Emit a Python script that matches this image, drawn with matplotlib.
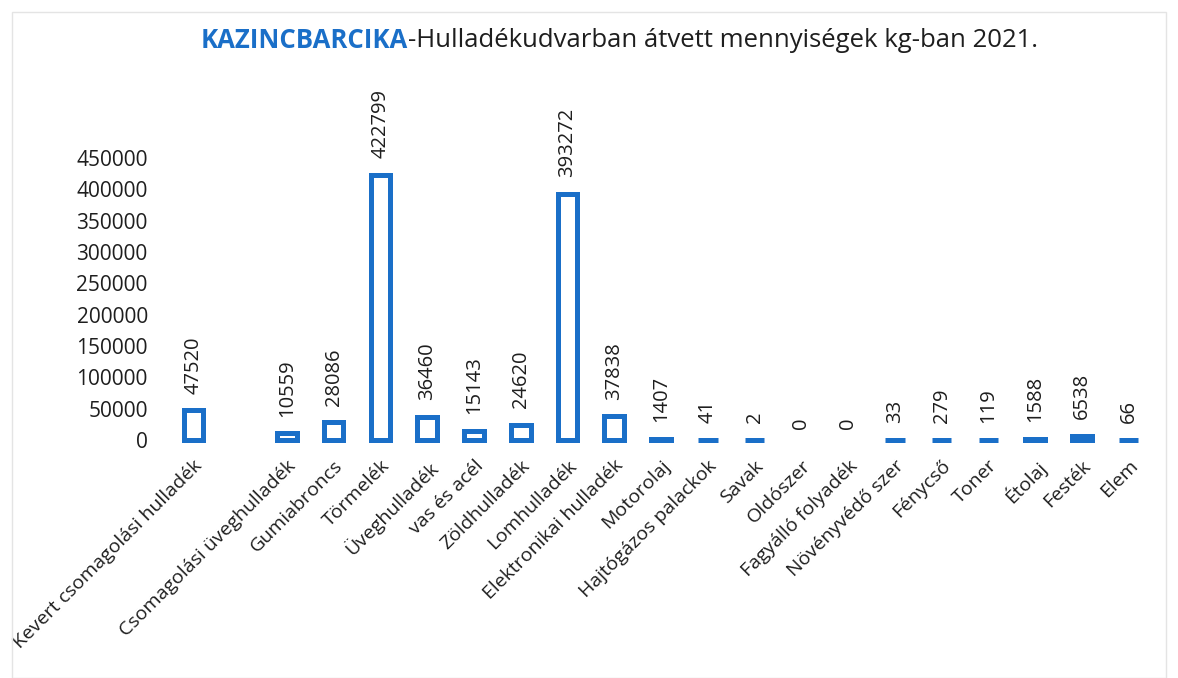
import numpy as np
import matplotlib
matplotlib.use("Agg")
import matplotlib.pyplot as plt
from matplotlib.patches import Rectangle

categories = ["Kevert csomagolási hulladék", "", "Csomagolási üveghulladék", "Gumiabroncs",
              "Törmelék", "Üveghulladék", "vas és acél", "Zöldhulladék", "Lomhulladék",
              "Elektronikai hulladék", "Motorolaj", "Hajtógázos palackok", "Savak",
              "Oldószer", "Fagyálló folyadék", "Növényvédő szer", "Fénycső", "Toner",
              "Étolaj", "Festék", "Elem"]
values = [47520, None, 10559, 28086, 422799, 36460, 15143, 24620, 393272, 37838,
          1407, 41, 2, 0, 0, 33, 279, 119, 1588, 6538, 66]
yticks = [0, 50000, 100000, 150000, 200000, 250000, 300000, 350000, 400000, 450000]

plt.rcParams['font.family'] = ['Open Sans', 'DejaVu Sans']
blue = '#1a6fc8'
txt = '#1e1e1e'

fig = plt.figure(figsize=(11.78, 6.78), dpi=100)
ax = fig.add_axes([170/1178, 1-440/678, (1152-170)/1178, (440-158)/678])

x = np.arange(len(categories))
idx = [i for i, v in enumerate(values) if v is not None]
hv = [values[i] for i in idx]
lws = [0 if v == 0 else 3.6 for v in hv]
bars = ax.bar(idx, hv, width=0.42, facecolor='white', edgecolor=blue,
              linewidth=lws, clip_on=False)
for b in bars:
    b.set_joinstyle('miter')

for i, v in zip(idx, hv):
    ax.annotate(str(v), (i, v), xytext=(0, 12 if v > 0 else 8), textcoords='offset points',
                rotation=90, ha='center', va='bottom', fontsize=14.5, color=txt,
                annotation_clip=False)

ax.set_xlim(-0.5, len(categories) - 0.5)
ax.set_ylim(0, 450000)
ax.set_yticks(yticks)
ax.set_yticklabels([str(t) for t in yticks], fontsize=15, color=txt)
ax.set_xticks(x)
ax.set_xticklabels(categories, rotation=45, ha='right', rotation_mode='anchor',
                   fontsize=14, color=txt)
ax.tick_params(axis='both', length=0)
ax.tick_params(axis='y', pad=16)
ax.tick_params(axis='x', pad=12)
for s in ax.spines.values():
    s.set_visible(False)

fig.text(0.346, 0.941, "KAZINCBARCIKA", fontsize=18.5, fontweight='bold', color=blue,
         ha='right', va='center')
fig.text(0.346, 0.941, "-Hulladékudvarban átvett mennyiségek kg-ban 2021.", fontsize=18.5,
         color=txt, ha='left', va='center')

fig.patches.append(Rectangle((12/1178, 0), 1 - 24/1178, 1 - 12/678, transform=fig.transFigure,
                             fill=False, edgecolor='#e4e4e4', linewidth=1))

fig.savefig("out.png", dpi=100, facecolor='white')
